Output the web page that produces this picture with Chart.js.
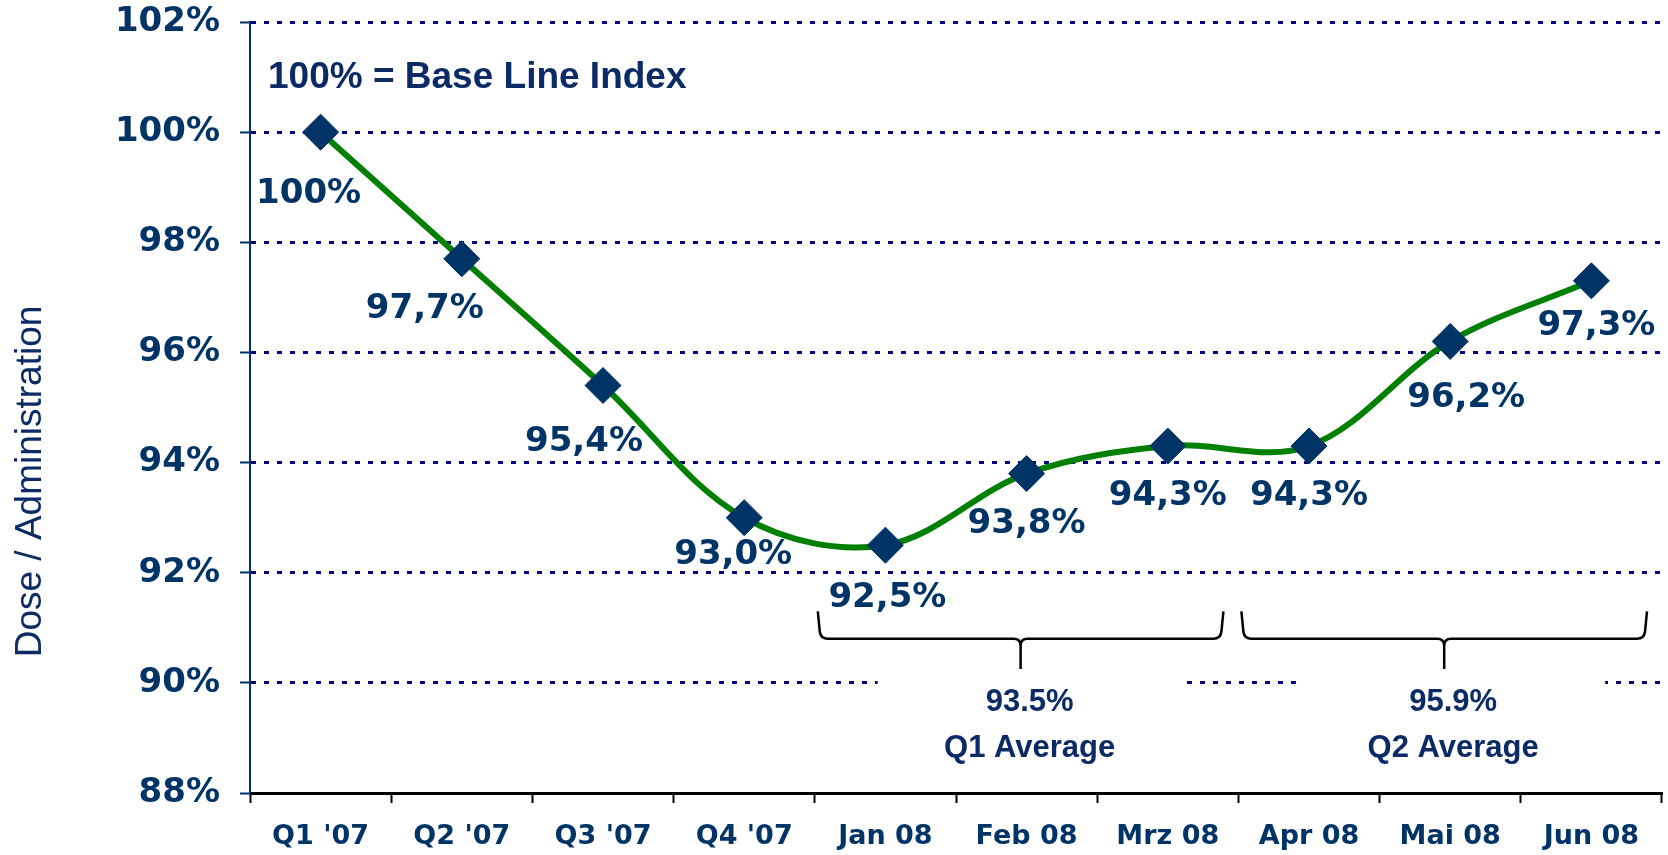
<!DOCTYPE html>
<html>
<head>
<meta charset="utf-8">
<title>Dose / Administration</title>
<script src="https://cdn.jsdelivr.net/npm/chart.js@4.4.1/dist/chart.umd.min.js"></script>
<style>
  html, body { margin: 0; padding: 0; background: #fff; }
  #chart { display: block; }
</style>
</head>
<body>
<canvas id="chart" width="1668" height="855"></canvas>
<script>
const categories = ["Q1 '07", "Q2 '07", "Q3 '07", "Q4 '07", "Jan 08", "Feb 08", "Mrz 08", "Apr 08", "Mai 08", "Jun 08"];
const doseIndex = [100, 97.7, 95.4, 93.0, 92.5, 93.8, 94.3, 94.3, 96.2, 97.3];
const yTicks = [88, 90, 92, 94, 96, 98, 100, 102];
const avgNames = ["Q1 Average", "Q2 Average"];
const avgValues = [93.5, 95.9];
const avgFrom = [4, 7]; // first category index of each quarter
const avgTo = [6, 9];   // last category index
const baseNote = "100% = Base Line Index";
const yTitle = "Dose / Administration";

const navy = "#003366";
const textNavy = "#0b2a66";
const arial = "'Liberation Sans', Arial, sans-serif";

// nudges of the value labels off their markers (px), hand placed like the original
const labelShift = [[-12, 62], [-37, 50], [-19, 57], [-11, 38], [2, 53], [0, 51], [0, 50], [0, 50], [16, 57], [5, 45]];

function fmtLabel(v) {
  if (v === 100) return "100%";
  return v.toFixed(1).replace(".", ",") + "%";
}

const extras = {
  id: "extras",
  afterDatasetsDraw(chart) {
    const ctx = chart.ctx;
    const pts = chart.getDatasetMeta(0).data;
    ctx.save();
    ctx.font = "bold 34px 'DejaVu Sans'";
    ctx.fillStyle = navy;
    ctx.textAlign = "center";
    ctx.textBaseline = "middle";
    pts.forEach((p, i) => {
      ctx.fillText(fmtLabel(doseIndex[i]), p.x + labelShift[i][0], p.y + labelShift[i][1]);
    });
    ctx.restore();
  },
  afterDraw(chart) {
    const ctx = chart.ctx;
    const xs = chart.scales.x, ys = chart.scales.y, area = chart.chartArea;
    ctx.save();

    // base line note
    ctx.fillStyle = textNavy;
    ctx.font = "bold 37px " + arial;
    ctx.textAlign = "left";
    ctx.textBaseline = "alphabetic";
    ctx.fillText(baseNote, area.left + 18, ys.getPixelForValue(100.8));

    // y title, sits lower than the axis middle
    ctx.save();
    ctx.translate(31, (area.top + area.bottom) / 2 + 74);
    ctx.rotate(-Math.PI / 2);
    ctx.font = "37px " + arial;
    ctx.textAlign = "center";
    ctx.textBaseline = "middle";
    ctx.fillText(yTitle, 0, 0);
    ctx.restore();

    // quarter averages with braces
    const top = ys.getPixelForValue(91.3);
    const mid = ys.getPixelForValue(90.8);
    const tip = ys.getPixelForValue(90.25);
    avgValues.forEach((v, k) => {
      const x1 = xs.getPixelForValue(avgFrom[k] - 0.5) + 3;
      const x2 = xs.getPixelForValue(avgTo[k] + 0.5) - 15;
      const xm = (x1 + x2) / 2;
      const xc = xs.getPixelForValue((avgFrom[k] + avgTo[k]) / 2) + 3;

      const boxTop = ys.getPixelForValue(90.18);
      ctx.fillStyle = "#fff";
      ctx.fillRect(xc - 152, boxTop, 304, ys.getPixelForValue(88.4) - boxTop);

      const r = 7;
      ctx.strokeStyle = "#000";
      ctx.lineWidth = 2.5;
      ctx.beginPath();
      ctx.moveTo(x1, top);
      ctx.lineTo(x1 + 2, mid - r);
      ctx.quadraticCurveTo(x1 + 3, mid, x1 + 3 + r, mid);
      ctx.lineTo(xm - r, mid);
      ctx.quadraticCurveTo(xm, mid, xm, mid + r);
      ctx.lineTo(xm, tip);
      ctx.moveTo(xm, mid + r);
      ctx.quadraticCurveTo(xm, mid, xm + r, mid);
      ctx.lineTo(x2 - 3 - r, mid);
      ctx.quadraticCurveTo(x2 - 3, mid, x2 - 2, mid - r);
      ctx.lineTo(x2, top);
      ctx.stroke();

      ctx.fillStyle = textNavy;
      ctx.font = "bold 31px " + arial;
      ctx.textAlign = "center";
      ctx.textBaseline = "alphabetic";
      ctx.fillText(v.toFixed(1) + "%", xc, ys.getPixelForValue(89.48));
      ctx.fillText(avgNames[k], xc, ys.getPixelForValue(88.66));
    });
    ctx.restore();
  }
};

new Chart(document.getElementById("chart"), {
  type: "line",
  data: {
    labels: categories,
    datasets: [{
      data: doseIndex,
      borderColor: "#008000",
      borderWidth: 6,
      tension: 0.35,
      fill: false,
      clip: false,
      pointStyle: "rectRot",
      pointRadius: 18,
      pointHoverRadius: 18,
      pointBackgroundColor: navy,
      pointBorderColor: navy,
      pointBorderWidth: 1
    }]
  },
  options: {
    responsive: false,
    animation: false,
    devicePixelRatio: 1,
    layout: { autoPadding: false, padding: { left: 115, top: 22, right: 6, bottom: 2 } },
    plugins: {
      legend: { display: false },
      tooltip: { enabled: false }
    },
    scales: {
      x: {
        offset: true,
        afterFit: (s) => { s.paddingLeft = 0; s.paddingRight = 0; s.height = 60; },
        grid: { offset: true, drawOnChartArea: false, tickLength: 10, tickColor: "#000", tickWidth: 2 },
        border: { color: "#000", width: 3 },
        ticks: {
          color: navy,
          font: { family: "DejaVu Sans", weight: "bold", size: 27 },
          padding: 18,
          maxRotation: 0,
          autoSkip: false
        }
      },
      y: {
        min: yTicks[0],
        max: yTicks[yTicks.length - 1],
        afterBuildTicks: (axis) => { axis.ticks = yTicks.map(v => ({ value: v })); },
        afterFit: (s) => { s.paddingTop = 0; s.paddingBottom = 0; s.width = 135; },
        grid: {
          color: (c) => (c.tick && c.tick.value === yTicks[0]) ? "rgba(0,0,0,0)" : "#000080",
          lineWidth: 3,
          tickLength: 10,
          tickColor: navy,
          tickWidth: 2
        },
        border: { color: navy, width: 2, dash: [5, 8] },
        ticks: {
          color: navy,
          font: { family: "DejaVu Sans", weight: "bold", size: 34 },
          padding: 20,
          callback: (v) => v + "%"
        }
      }
    }
  },
  plugins: [extras]
});
</script>
</body>
</html>
